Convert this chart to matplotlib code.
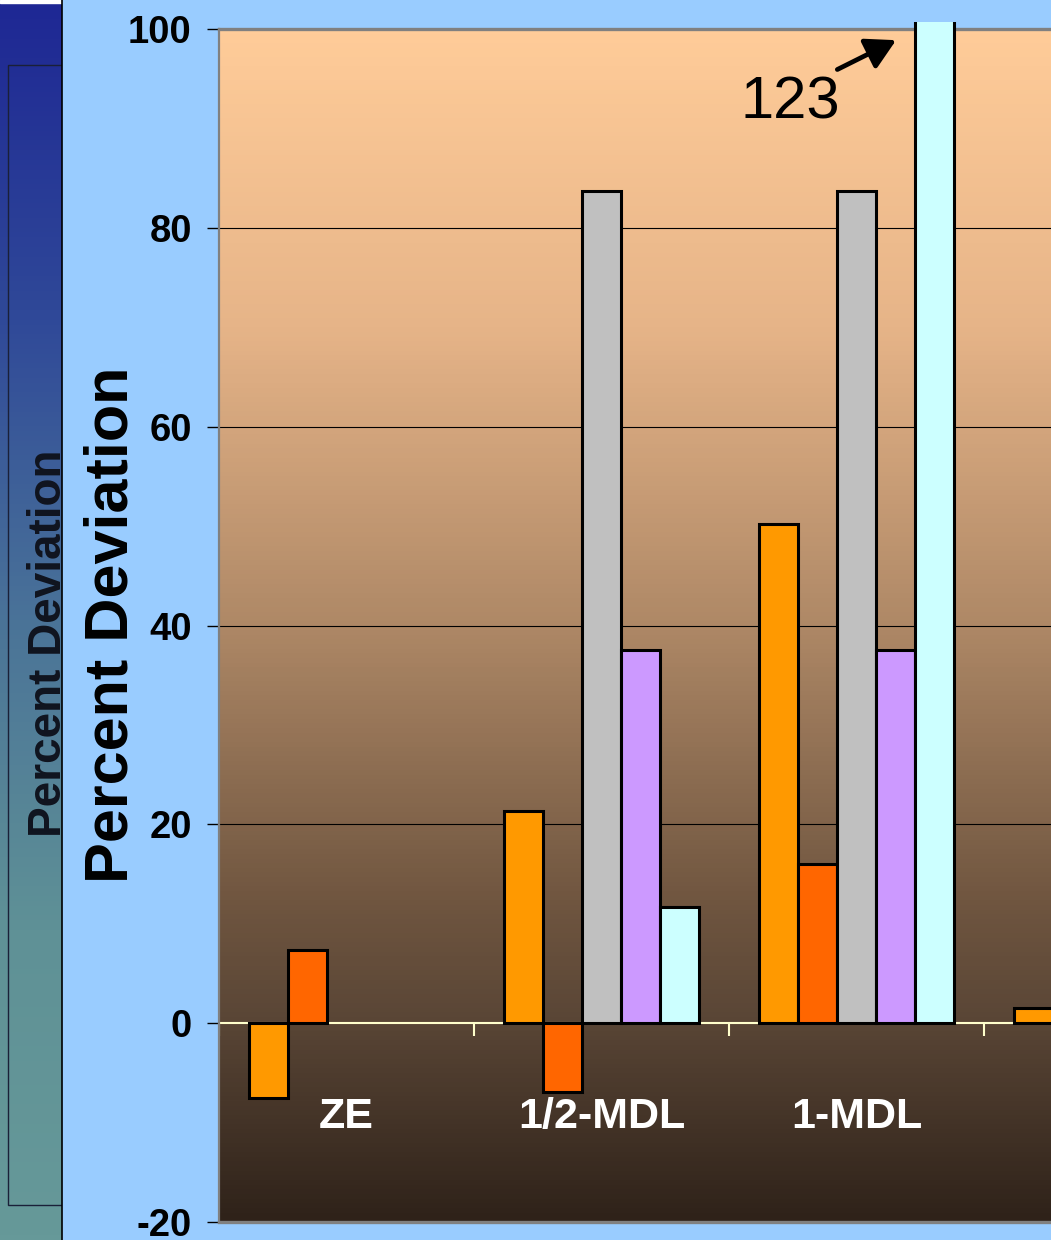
import numpy as np
import matplotlib
matplotlib.use("Agg")
import matplotlib.pyplot as plt
from matplotlib.colors import LinearSegmentedColormap
from matplotlib.patches import Rectangle, FancyArrowPatch
from matplotlib.transforms import Bbox, TransformedBbox

# ---- data ----
categories = ["ZE", "1/2-MDL", "1-MDL", ""]
series_a = [-7.5, 21.3, 50.2, 1.5]            # orange
series_b = [7.4, -6.9, 16.0, -5.0]            # red-orange
series_c = [np.nan, 83.7, 83.7, np.nan]       # grey
series_d = [np.nan, 37.5, 37.5, np.nan]       # lilac
series_e = [np.nan, 11.7, 123.0, np.nan]      # pale cyan
y_ticks = [-20, 0, 20, 40, 60, 80, 100]
off_scale_label = "123"

series = [series_a, series_b, series_c, series_d, series_e]
colors = ["#ff9900", "#ff6600", "#c0c0c0", "#cc99ff", "#ccffff"]

plt.rcParams["font.family"] = ["Liberation Sans", "DejaVu Sans"]

W, H = 1051, 1240
fig = plt.figure(figsize=(W / 100, H / 100), dpi=100, facecolor="#99ccff")

# ---- left strip: slide behind, blue-to-teal gradient ----
side = fig.add_axes([0, 0, 62 / W, 1])
side.set_xlim(0, 62)
side.set_ylim(H, 0)
side.axis("off")
side_cmap = LinearSegmentedColormap.from_list(
    "side", ["#1e2794", "#2f4898", "#4a7398", "#5f9196", "#669999"])
side.imshow(np.linspace(0, 1, 256)[:, None], cmap=side_cmap, aspect="auto",
            extent=(0, 62, H, 0), zorder=0)
side.add_patch(Rectangle((0, 0), 62, 2.5, color="white", zorder=1))
side.add_patch(Rectangle((8, 65), 80, 1140, fill=False, ec="#1a2038",
                         lw=1.0, zorder=2))
side.text(27, 643, "Percent Deviation", rotation=90, ha="left", va="center",
          fontsize=33, fontweight="bold", color="#10141f", clip_on=True,
          zorder=3)
fig.add_artist(plt.Line2D([62 / W, 62 / W], [0, 1], color="black", lw=1.2))

# ---- main chart ----
ax = fig.add_axes([219 / W, 18 / H, 1020 / W, 1193 / H])
ax.set_xlim(0, len(categories))
ax.set_ylim(-20, 100)

bg_cmap = LinearSegmentedColormap.from_list(
    "bg", [(0.0, "#2f2219"), (0.17, "#5a4636"), (0.27, "#705640"),
           (0.5, "#ae8866"), (0.75, "#e6b488"), (1.0, "#ffcc99")])
ax.imshow(np.linspace(0, 1, 256)[:, None], cmap=bg_cmap, aspect="auto",
          origin="lower", extent=(0, len(categories), -20, 100), zorder=0)

for v in [20, 40, 60, 80]:
    ax.axhline(v, color="black", lw=0.8, zorder=1)
ax.axhline(0, color="#ffffcc", lw=1.5, zorder=1.5)
ax.vlines(np.arange(len(categories) + 1), -1.3, 0, color="#ffffcc", lw=1.5,
          zorder=1.5)

n = len(series)
gap = 30 / 255
bw = (1 - 2 * gap) / n
x0 = np.arange(len(categories))
clip = TransformedBbox(Bbox([[0, -0.01], [1, 1.006]]), ax.transAxes)
for j, (vals, col) in enumerate(zip(series, colors)):
    bars = ax.bar(x0 + gap + (j + 0.5) * bw, vals, width=bw, color=col,
                  edgecolor="black", linewidth=2.2, zorder=3)
    for b in bars:
        b.set_clip_box(clip)

for i, name in enumerate(categories):
    ax.text(i + 0.5, -9.4, name, ha="center", va="center", color="white",
            fontsize=31, fontweight="bold", zorder=4)

# off-scale value marker
ax.text(2.24, 92.6, off_scale_label, ha="center", va="center", fontsize=43,
        color="black", zorder=5)
ax.add_patch(FancyArrowPatch((2.415, 95.8), (2.665, 99.0),
                             arrowstyle="-|>,head_length=18,head_width=10",
                             mutation_scale=1, lw=3.4, color="black",
                             zorder=5))

ax.set_yticks(y_ticks)
ax.set_yticklabels([str(t) for t in y_ticks], fontsize=27.5, fontweight="bold")
ax.tick_params(axis="y", direction="out", length=8.6, width=1.0,
               color="black", pad=11)
for lbl in ax.get_yticklabels():
    lbl.set_verticalalignment("center_baseline")
ax.set_xticks([])
for s in ["left", "top", "bottom"]:
    ax.spines[s].set_color("#808080")
ax.spines["left"].set_linewidth(1.6)
ax.spines["top"].set_linewidth(2.4)
ax.spines["bottom"].set_linewidth(2.4)
ax.spines["right"].set_visible(False)

fig.text(112 / W, (H - 625) / H, "Percent Deviation", rotation=90,
         ha="center", va="center", fontsize=44, fontweight="bold",
         color="black")

fig.savefig("out.png", dpi=100, facecolor=fig.get_facecolor())
